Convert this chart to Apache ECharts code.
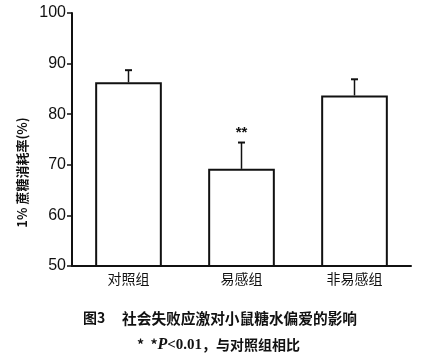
<!DOCTYPE html>
<html><head><meta charset="utf-8">
<script src="https://cdn.jsdelivr.net/npm/echarts@6/dist/echarts.min.js"></script>
<style>html,body{margin:0;padding:0;background:#fff}#c{width:429px;height:362px}</style>
</head><body><div id="c"></div>
<script>
const categories = ['对照组', '易感组', '非易感组'];
const means = [86.3, 69.2, 83.7];
const upper = [88.7, 74.4, 86.9];
const marks = ['', '**', ''];
const yTicks = [50, 60, 70, 80, 90, 100];

const chart = echarts.init(document.getElementById('c'));
const errData = categories.map((c, i) => [i, means[i], upper[i], marks[i]]);

chart.setOption({
  animation: false,
  backgroundColor: '#fff',
  title: [
    { text: '图3', left: 78, top: 306,
      textStyle: { fontSize: 14, fontWeight: 'bold', color: '#111', fontFamily: 'Noto Sans CJK SC' } },
    { text: '社会失败应激对小鼠糖水偏爱的影响', left: 117, top: 306,
      textStyle: { fontSize: 14.7, fontWeight: 'bold', color: '#111', fontFamily: 'Noto Sans CJK SC' } },
    { text: '{s|*  *}{p|P}{n|<0.01}{s|，与对照组相比}', left: 132, top: 332,
      textStyle: { rich: {
        s: { fontSize: 14, color: '#111', fontFamily: 'Noto Sans CJK SC' },
        n: { fontSize: 15, color: '#111', fontFamily: 'Liberation Serif' },
        p: { fontSize: 16, color: '#111', fontStyle: 'italic', fontFamily: 'Liberation Serif' } } } }
  ],
  grid: { left: 72, right: 18, top: 13, bottom: 96 },
  xAxis: {
    type: 'category', data: categories,
    axisLine: { lineStyle: { color: '#111', width: 2 } },
    axisTick: { show: false },
    axisLabel: { color: '#111', fontSize: 14, margin: 6, fontFamily: 'Noto Sans CJK SC' }
  },
  yAxis: {
    type: 'value', min: yTicks[0], max: yTicks[yTicks.length - 1], interval: 10,
    name: '1% 蔗糖消耗率(%)', nameLocation: 'middle', nameGap: 32, nameRotate: 90,
    nameTextStyle: { fontSize: 13, fontWeight: 'bold', color: '#111', fontFamily: 'Noto Sans CJK SC',
      padding: [0, 66, 0, 0] },
    axisLine: { show: true, lineStyle: { color: '#111', width: 2 } },
    axisTick: { show: true, length: 5, lineStyle: { color: '#111', width: 1.5 } },
    axisLabel: { color: '#111', fontSize: 16, margin: 6, fontFamily: 'Liberation Sans' },
    splitLine: { show: false }
  },
  series: [
    {
      type: 'bar', data: means, barWidth: '59%',
      itemStyle: { color: '#fff', borderColor: '#111', borderWidth: 2 },
      z: 2
    },
    {
      type: 'custom', data: errData, z: 3,
      renderItem: function (params, api) {
        const x = api.value(0);
        const top = api.coord([x, api.value(2)]);
        const base = api.coord([x, api.value(1)]);
        const cap = 3.5;
        const children = [
          { type: 'line', shape: { x1: top[0], y1: top[1], x2: base[0], y2: base[1] },
            style: { stroke: '#111', lineWidth: 1.5 } },
          { type: 'line', shape: { x1: top[0] - cap, y1: top[1], x2: top[0] + cap, y2: top[1] },
            style: { stroke: '#111', lineWidth: 2 } }
        ];
        const m = errData[params.dataIndex][3];
        if (m) {
          children.push({ type: 'text', style: { text: m, x: top[0], y: top[1] - 2,
            align: 'center', verticalAlign: 'bottom', fontSize: 15, fontWeight: 'bold', fill: '#111',
            fontFamily: 'Liberation Sans' } });
        }
        return { type: 'group', children: children };
      }
    }
  ]
});
</script>
</body></html>
